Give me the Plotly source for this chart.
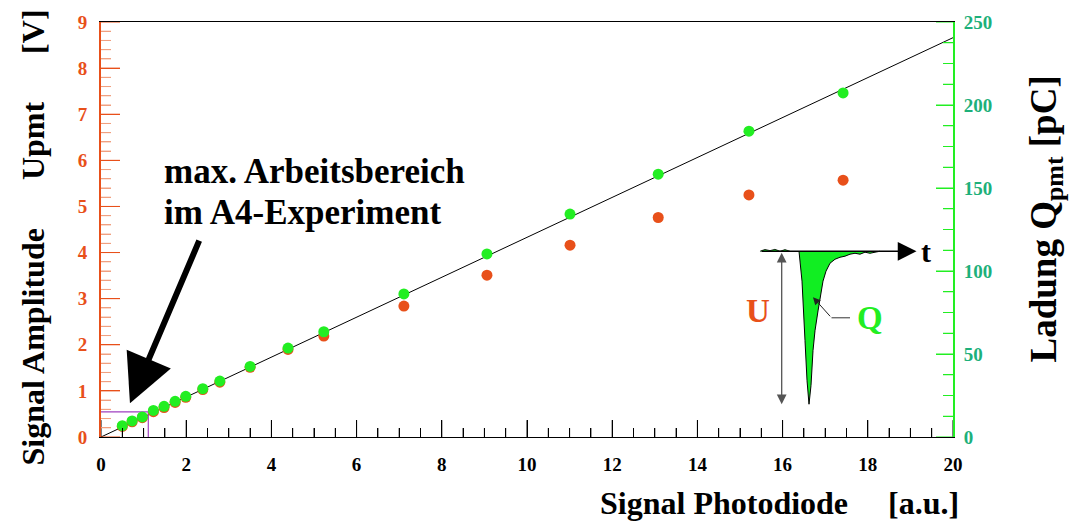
import plotly.graph_objects as go

# ---- data -------------------------------------------------------------
photodiode = [0.50, 0.73, 0.97, 1.23, 1.48, 1.74, 1.99, 2.39, 2.79, 3.50, 4.39, 5.23,
              7.11, 9.06, 11.01, 13.08, 15.21, 17.42]
amplitude_v = [0.23, 0.33, 0.42, 0.55, 0.64, 0.75, 0.86, 1.03, 1.19, 1.51, 1.90, 2.19,
               2.84, 3.51, 4.16, 4.76, 5.25, 5.57]
charge_pc = [6.8, 9.7, 12.1, 16.0, 18.5, 21.5, 24.5, 29.1, 33.7, 42.5, 53.6, 63.4,
             86.2, 110.3, 134.3, 158.3, 184.2, 207.3]

fit_x = [0, 20]
fit_v = [0, 8.66]

box_x = [0, 1.11, 1.11]
box_v = [0.545, 0.545, 0]

# inset pulse (time in a.u., amplitude normalised)
pulse_t = [8.8, 9.4, 10.0, 10.4, 10.8, 11.2, 11.6, 12.0, 12.6, 13.0, 13.6, 14.2, 15.0,
           16.0, 17.0, 18.0, 19.0, 20.0, 21.0, 22.0, 23.0, 24.0, 25.0]
pulse_a = [0.0, -0.195, -0.584, -0.844, -1.0, -0.877, -0.649, -0.519, -0.39, -0.305,
           -0.195, -0.13, -0.078, -0.052, -0.039, -0.032, -0.019, -0.013, -0.019,
           -0.006, -0.013, -0.006, 0.0]
noise_t = [1.0, 2.0, 3.0, 4.0, 5.0, 6.0, 7.0]
noise_a = [0.0, 0.012, 0.004, 0.013, 0.0, 0.011, 0.0]
q_leader_t = [19.0, 15.3]
q_leader_a = [-0.435, -0.435]

# tick values
x_major = [2 * i for i in range(11)]
x_minor = [0.5 * i for i in range(41) if i % 4]
v_major = [i for i in range(10)]
v_minor = [0.2 * i for i in range(46) if i % 5]
q_major = [50 * i for i in range(6)]
q_minor = [12.5 * i for i in range(21) if i % 4]

SERIF = "Liberation Serif"
ORANGE = "#e8501a"
GREEN = "#22ee22"
TEAL = "#1db07a"
NB = "\u00a0"
bold = dict(family=SERIF, weight="bold")

# plot-area size in px (for converting tick lengths to axis units)
PW, PH = 852.0, 418.0
X_SPAN, V_SPAN, Q_SPAN = 20.0, 9.0, 250.0

fig = go.Figure()

fig.add_trace(go.Scatter(x=fit_x, y=fit_v, mode="lines",
                         line=dict(color="black", width=1)))
fig.add_trace(go.Scatter(x=box_x, y=box_v, mode="lines",
                         line=dict(color="#a040c0", width=1.2)))
fig.add_trace(go.Scatter(x=photodiode, y=amplitude_v, mode="markers",
                         marker=dict(color=ORANGE, size=11)))
fig.add_trace(go.Scatter(x=photodiode, y=charge_pc, mode="markers", yaxis="y2",
                         marker=dict(color=GREEN, size=11)))

# inset
fig.add_trace(go.Scatter(x=pulse_t, y=pulse_a, mode="lines", fill="toself",
                         fillcolor="#11ee22", line=dict(color="black", width=1),
                         xaxis="x3", yaxis="y3"))
fig.add_trace(go.Scatter(x=noise_t, y=noise_a, mode="lines", fill="toself",
                         fillcolor="#11ee22", line=dict(color="black", width=0.8),
                         xaxis="x3", yaxis="y3"))
fig.add_trace(go.Scatter(x=q_leader_t, y=q_leader_a, mode="lines",
                         line=dict(color="#333", width=1),
                         xaxis="x3", yaxis="y3"))


# tick marks drawn from the tick value lists (inside ticks)
def x_ticks_trace(vals, length_px, color):
    xs, ys = [], []
    h = length_px * V_SPAN / PH
    for v in vals:
        xs += [v, v, None]
        ys += [0, h, None]
    return go.Scatter(x=xs, y=ys, mode="lines", line=dict(color=color, width=1),
                      hoverinfo="skip")


def y_ticks_trace(vals, length_px, color, span, right=False, yaxis="y"):
    xs, ys = [], []
    w = length_px * X_SPAN / PW
    x0 = X_SPAN if right else 0
    x1 = x0 - w if right else x0 + w
    for v in vals:
        xs += [x0, x1, None]
        ys += [v, v, None]
    return go.Scatter(x=xs, y=ys, mode="lines", line=dict(color=color, width=1),
                      yaxis=yaxis, hoverinfo="skip")


fig.add_trace(x_ticks_trace(x_minor, 9, "black"))
fig.add_trace(x_ticks_trace(x_major, 17, "black"))
fig.add_trace(y_ticks_trace(v_minor, 10, "#f0a080", V_SPAN))
fig.add_trace(y_ticks_trace(v_major, 19, ORANGE, V_SPAN))
fig.add_trace(y_ticks_trace(q_minor, 10, GREEN, Q_SPAN, right=True, yaxis="y2"))
fig.add_trace(y_ticks_trace(q_major, 17, GREEN, Q_SPAN, right=True, yaxis="y2"))

annotations = [
    dict(x=0.68, y=0.73, ax=2.32, ay=4.29, xref="x", yref="y", axref="x", ayref="y",
         showarrow=True, arrowhead=2, arrowsize=1.6, arrowwidth=6, arrowcolor="black", text=""),
    dict(x=1.43, y=5.75, xref="x", yref="y", xanchor="left", yanchor="middle",
         showarrow=False, text="max. Arbeitsbereich",
         font=dict(size=35, color="black", **bold)),
    dict(x=1.43, y=4.87, xref="x", yref="y", xanchor="left", yanchor="middle",
         showarrow=False, text="im A4-Experiment",
         font=dict(size=35, color="black", **bold)),
    # axis titles
    dict(x=1.0, y=0, xref="paper", yref="paper", xanchor="right", yanchor="middle",
         xshift=8, yshift=-66, showarrow=False,
         text="Signal Photodiode" + NB * 5 + "[a.u.]",
         font=dict(size=32, color="black", **bold)),
    dict(x=0, y=0.5, xref="paper", yref="paper", xanchor="center", yanchor="middle",
         xshift=-69, yshift=-8, textangle=-90, showarrow=False,
         text="Signal Amplitude" + NB * 6 + "Upmt" + NB * 6 + "[V]",
         font=dict(size=32, color="black", **bold)),
    dict(x=1, y=0.5, xref="paper", yref="paper", xanchor="center", yanchor="middle",
         xshift=93, yshift=10, textangle=-90, showarrow=False,
         text="Ladung Q<sub>pmt</sub> [pC]",
         font=dict(size=37, color="black", **bold)),
    # inset annotations
    dict(x=32.3, y=0, ax=1.0, ay=0, xref="x3", yref="y3", axref="x3", ayref="y3",
         showarrow=True, arrowhead=2, arrowsize=2.5, arrowwidth=1.5, arrowcolor="black", text=""),
    dict(x=5.34, y=-1.0, ax=5.34, ay=0, xref="x3", yref="y3", axref="x3", ayref="y3",
         showarrow=True, arrowhead=2, arrowside="end+start", arrowsize=1.5, arrowwidth=1.3,
         arrowcolor="#555", text=""),
    dict(x=11.6, y=-0.30, ax=15.3, ay=-0.435, xref="x3", yref="y3", axref="x3", ayref="y3",
         showarrow=True, arrowhead=2, arrowsize=1.5, arrowwidth=1, arrowcolor="#222", text=""),
    dict(x=0.6, y=-0.39, xref="x3", yref="y3", showarrow=False, text="U",
         font=dict(size=33, color=ORANGE, **bold)),
    dict(x=23.0, y=-0.435, xref="x3", yref="y3", showarrow=False, text="Q",
         font=dict(size=33, color=GREEN, **bold)),
    dict(x=34.2, y=0.0, xref="x3", yref="y3", showarrow=False, text="t",
         font=dict(size=30, color="black", **bold)),
]

fig.update_layout(
    width=1069, height=525,
    margin=dict(l=101, r=116, t=19, b=88),
    paper_bgcolor="white", plot_bgcolor="white",
    showlegend=False,
    xaxis=dict(range=[0, X_SPAN], tickvals=x_major, ticks="inside", ticklen=17,
               tickcolor="black", showline=True, linecolor="black",
               mirror=True, showgrid=False, zeroline=False, ticklabelstandoff=10,
               minor=dict(dtick=0.5, ticks="inside", ticklen=9, tickcolor="black"),
               tickfont=dict(size=19, color="black", **bold)),
    yaxis=dict(range=[0, V_SPAN], tickvals=v_major, ticks="inside", ticklen=19,
               tickcolor=ORANGE, showline=True, linecolor=ORANGE, linewidth=2,
               showgrid=False, zeroline=False, ticklabelstandoff=8,
               minor=dict(dtick=0.2, ticks="inside", ticklen=10, tickcolor="#f0a080"),
               tickfont=dict(size=19, color=ORANGE, **bold)),
    yaxis2=dict(range=[0, Q_SPAN], tickvals=q_major, overlaying="y", side="right",
                ticks="inside", ticklen=17, tickcolor=GREEN, showline=True,
                linecolor=GREEN, linewidth=2, showgrid=False, zeroline=False,
                ticklabelstandoff=5,
                minor=dict(dtick=12.5, ticks="inside", ticklen=10, tickcolor=GREEN),
                tickfont=dict(size=19, color=TEAL, **bold)),
    xaxis3=dict(domain=[0.7676, 0.9789], range=[0, 36], visible=False, anchor="y3"),
    yaxis3=dict(domain=[0.0646, 0.4593], range=[-1.039, 0.032], visible=False,
                anchor="x3"),
    annotations=annotations,
)

fig.write_html("out.html")
